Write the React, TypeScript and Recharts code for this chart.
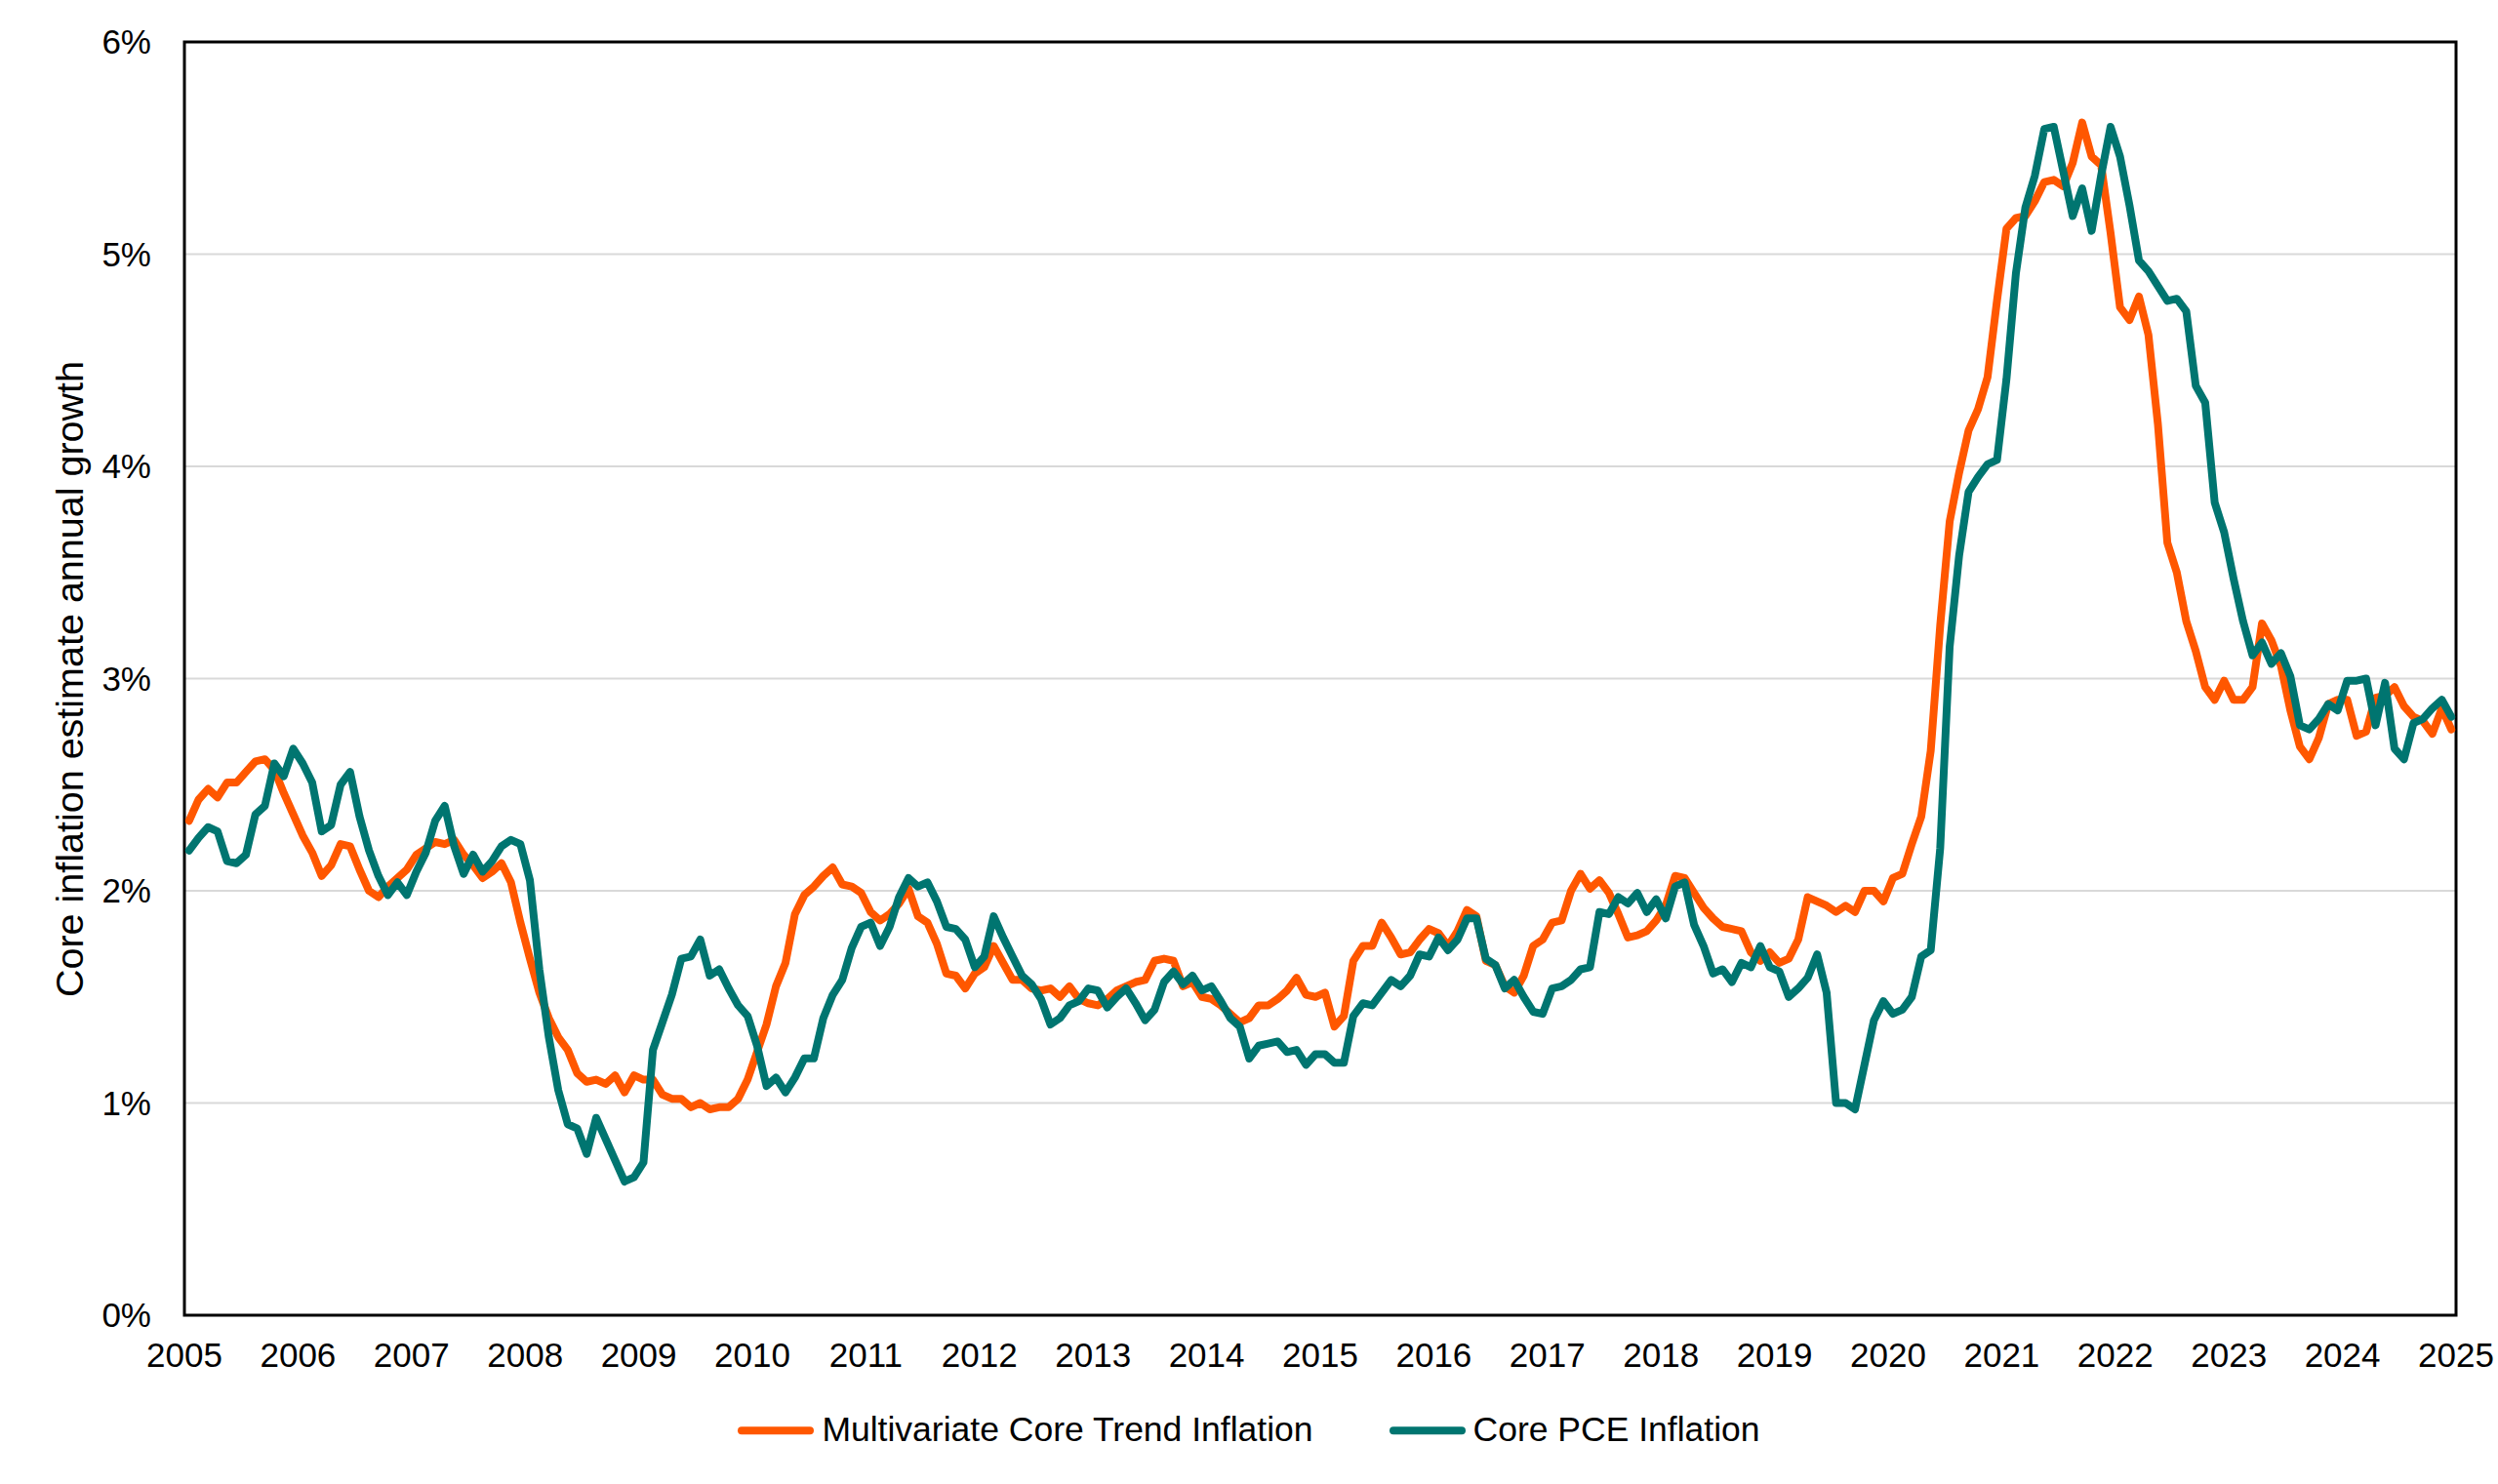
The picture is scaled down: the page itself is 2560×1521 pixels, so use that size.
import React from 'react';
import { LineChart, Line, XAxis, YAxis, CartesianGrid, ReferenceArea } from 'recharts';

// monthly observations, Jan 2005 .. Dec 2024 (annual growth, %)
const START_YEAR = 2005;
const YEAR_LABELS = [
  2005, 2006, 2007, 2008, 2009, 2010, 2011, 2012, 2013, 2014, 2015,
  2016, 2017, 2018, 2019, 2020, 2021, 2022, 2023, 2024, 2025,
];
const PCT_TICKS = [0, 1, 2, 3, 4, 5, 6];

const trendInflation = [
  2.33, 2.43, 2.48, 2.44, 2.51, 2.51, 2.56, 2.61, 2.62, 2.57, 2.46, 2.36,
  2.26, 2.18, 2.07, 2.12, 2.22, 2.21, 2.10, 2.00, 1.97, 2.02, 2.06, 2.10,
  2.17, 2.20, 2.23, 2.22, 2.24, 2.17, 2.12, 2.06, 2.09, 2.13, 2.04, 1.85,
  1.68, 1.52, 1.40, 1.31, 1.25, 1.14, 1.10, 1.11, 1.09, 1.13, 1.05, 1.13,
  1.11, 1.11, 1.04, 1.02, 1.02, 0.98, 1.00, 0.97, 0.98, 0.98, 1.02, 1.11,
  1.24, 1.37, 1.55, 1.66, 1.89, 1.98, 2.02, 2.07, 2.11, 2.03, 2.02, 1.99,
  1.90, 1.86, 1.89, 1.94, 2.01, 1.88, 1.85, 1.75, 1.61, 1.60, 1.54, 1.61,
  1.64, 1.74, 1.66, 1.58, 1.58, 1.54, 1.53, 1.54, 1.50, 1.55, 1.49, 1.47,
  1.46, 1.49, 1.53, 1.55, 1.57, 1.58, 1.67, 1.68, 1.67, 1.55, 1.57, 1.50,
  1.49, 1.46, 1.42, 1.38, 1.40, 1.46, 1.46, 1.49, 1.53, 1.59, 1.51, 1.50,
  1.52, 1.36, 1.41, 1.67, 1.74, 1.74, 1.85, 1.78, 1.70, 1.71, 1.77, 1.82,
  1.80, 1.74, 1.81, 1.91, 1.88, 1.67, 1.65, 1.55, 1.52, 1.60, 1.74, 1.77,
  1.85, 1.86, 2.00, 2.08, 2.01, 2.05, 1.99, 1.89, 1.78, 1.79, 1.81, 1.86,
  1.93, 2.07, 2.06, 1.99, 1.92, 1.87, 1.83, 1.82, 1.81, 1.71, 1.67, 1.71,
  1.66, 1.68, 1.77, 1.97, 1.95, 1.93, 1.90, 1.93, 1.90, 2.00, 2.00, 1.95,
  2.06, 2.08, 2.22, 2.35, 2.66, 3.25, 3.74, 3.97, 4.17, 4.27, 4.42, 4.78,
  5.12, 5.17, 5.18, 5.25, 5.34, 5.35, 5.32, 5.43, 5.62, 5.46, 5.42, 5.10,
  4.75, 4.69, 4.80, 4.62, 4.20, 3.64, 3.50, 3.27, 3.13, 2.96, 2.90, 2.99,
  2.90, 2.90, 2.96, 3.26, 3.18, 3.06, 2.85, 2.68, 2.62, 2.72, 2.88, 2.90,
  2.90, 2.73, 2.75, 2.91, 2.92, 2.96, 2.87, 2.82, 2.80, 2.74, 2.86, 2.76,
];

const corePce = [
  2.19, 2.25, 2.30, 2.28, 2.14, 2.13, 2.17, 2.36, 2.40, 2.60, 2.54, 2.67,
  2.60, 2.51, 2.28, 2.31, 2.50, 2.56, 2.35, 2.19, 2.07, 1.98, 2.04, 1.98,
  2.09, 2.18, 2.33, 2.40, 2.21, 2.08, 2.17, 2.09, 2.14, 2.21, 2.24, 2.22,
  2.05, 1.63, 1.31, 1.06, 0.90, 0.88, 0.76, 0.93, 0.83, 0.73, 0.63, 0.65,
  0.72, 1.25, 1.38, 1.51, 1.68, 1.69, 1.77, 1.60, 1.63, 1.54, 1.46, 1.41,
  1.27, 1.08, 1.12, 1.05, 1.12, 1.21, 1.21, 1.40, 1.51, 1.58, 1.73, 1.83,
  1.85, 1.74, 1.83, 1.97, 2.06, 2.02, 2.04, 1.95, 1.83, 1.82, 1.77, 1.64,
  1.69, 1.88, 1.78, 1.69, 1.60, 1.56, 1.49, 1.37, 1.40, 1.46, 1.48, 1.54,
  1.53, 1.45, 1.50, 1.54, 1.47, 1.39, 1.44, 1.57, 1.62, 1.56, 1.60, 1.53,
  1.55, 1.48, 1.40, 1.36, 1.21, 1.27, 1.28, 1.29, 1.24, 1.25, 1.18, 1.23,
  1.23, 1.19, 1.19, 1.41, 1.47, 1.46, 1.52, 1.58, 1.55, 1.60, 1.70, 1.69,
  1.78, 1.72, 1.77, 1.87, 1.87, 1.68, 1.65, 1.54, 1.58, 1.50, 1.43, 1.42,
  1.54, 1.55, 1.58, 1.63, 1.64, 1.90, 1.89, 1.97, 1.94, 1.99, 1.90, 1.96,
  1.87, 2.02, 2.04, 1.84, 1.74, 1.61, 1.63, 1.57, 1.66, 1.64, 1.74, 1.64,
  1.62, 1.50, 1.54, 1.59, 1.70, 1.52, 1.00, 1.00, 0.97, 1.18, 1.39, 1.48,
  1.42, 1.44, 1.50, 1.69, 1.72, 2.20, 3.15, 3.58, 3.88, 3.95, 4.01, 4.03,
  4.41, 4.91, 5.22, 5.37, 5.59, 5.60, 5.39, 5.18, 5.31, 5.11, 5.37, 5.60,
  5.46, 5.23, 4.97, 4.92, 4.85, 4.78, 4.79, 4.73, 4.38, 4.30, 3.83, 3.69,
  3.47, 3.27, 3.11, 3.17, 3.07, 3.12, 3.01, 2.78, 2.76, 2.81, 2.88, 2.85,
  2.99, 2.99, 3.00, 2.78, 2.98, 2.67, 2.62, 2.79, 2.81, 2.86, 2.90, 2.82,
];

const ORANGE = '#FF5700';
const TEAL = '#007570';
const FONT = '"Liberation Sans", Arial, Helvetica, sans-serif';

// points sit in the middle of their month
const chartData = trendInflation.map((v, i) => ({
  month: i + 0.5,
  trend: v,
  pce: corePce[i],
}));

const monthTicks = YEAR_LABELS.map((y) => (y - START_YEAR) * 12);
const totalMonths = monthTicks[monthTicks.length - 1];

const tickStyle = { fill: '#000', fontSize: 35, fontFamily: FONT };

const LegendItem: React.FC<{ color: string; label: string }> = ({ color, label }) => (
  <div style={{ display: 'flex', alignItems: 'center' }}>
    <span
      style={{
        display: 'inline-block',
        width: 78,
        height: 8,
        borderRadius: 4,
        background: color,
      }}
    />
    <span style={{ marginLeft: 8 }}>{label}</span>
  </div>
);

export default function App() {
  return (
    <div
      style={{
        position: 'absolute',
        left: 0,
        top: 0,
        width: 2560,
        height: 1521,
        background: '#fff',
        fontFamily: FONT,
        color: '#000',
      }}
    >
      <LineChart
        width={2560}
        height={1521}
        data={chartData}
        margin={{ top: 43, right: 43, bottom: 113, left: 0 }}
      >
        <CartesianGrid vertical={false} stroke="#D9D9D9" strokeWidth={2} />
        <XAxis
          type="number"
          dataKey="month"
          domain={[0, totalMonths]}
          ticks={monthTicks}
          tickFormatter={(v: number) => String(START_YEAR + v / 12)}
          axisLine={false}
          tickLine={false}
          tickSize={6}
          tickMargin={22}
          height={60}
          tick={tickStyle}
          interval={0}
        />
        <YAxis
          domain={[0, 6]}
          ticks={PCT_TICKS}
          tickFormatter={(v: number) => `${v}%`}
          width={189}
          axisLine={false}
          tickLine={false}
          tickSize={6}
          tickMargin={28}
          tick={tickStyle}
          interval={0}
        />
        <ReferenceArea
          x1={0}
          x2={totalMonths}
          y1={0}
          y2={6}
          fill="none"
          stroke="#000"
          strokeWidth={3}
          ifOverflow="visible"
        />
        <Line
          type="linear"
          dataKey="trend"
          stroke={ORANGE}
          strokeWidth={8}
          dot={false}
          activeDot={false}
          strokeLinejoin="round"
          strokeLinecap="round"
          isAnimationActive={false}
        />
        <Line
          type="linear"
          dataKey="pce"
          stroke={TEAL}
          strokeWidth={8}
          dot={false}
          activeDot={false}
          strokeLinejoin="round"
          strokeLinecap="round"
          isAnimationActive={false}
        />
      </LineChart>

      <div
        style={{
          position: 'absolute',
          left: 72,
          top: 696,
          transform: 'translate(-50%, -50%) rotate(-90deg)',
          whiteSpace: 'nowrap',
          fontSize: 39.5,
          lineHeight: 1,
        }}
      >
        Core inflation estimate annual growth
      </div>

      <div
        style={{
          position: 'absolute',
          left: 0,
          width: 2560,
          top: 1466,
          transform: 'translateY(-50%)',
          display: 'flex',
          justifyContent: 'center',
          gap: 78,
          fontSize: 35.5,
          lineHeight: 1,
        }}
      >
        <LegendItem color={ORANGE} label="Multivariate Core Trend Inflation" />
        <LegendItem color={TEAL} label="Core PCE Inflation" />
      </div>
    </div>
  );
}
